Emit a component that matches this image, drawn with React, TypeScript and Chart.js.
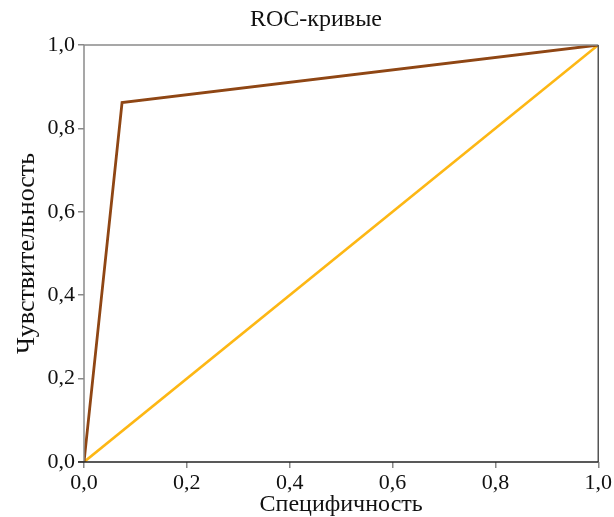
import React, { useEffect, useRef } from "react";
import { Chart, registerables } from "chart.js";

Chart.register(...registerables);

const titleText = "ROC-кривые";
const xTitle = "Специфичность";
const yTitle = "Чувствительность";

const modelX = [0, 0.074, 1];
const modelY = [0, 0.862, 1];
const refX = [0, 1];
const refY = [0, 1];

const tickValues = [0, 0.2, 0.4, 0.6, 0.8, 1.0];

const FONT = "'Liberation Serif', 'DejaVu Serif', serif";

const fmt = (v: number) => v.toFixed(1).replace(".", ",");

export default function App() {
  const ref = useRef<HTMLCanvasElement | null>(null);

  useEffect(() => {
    document.body.style.margin = "0";
    const canvas = ref.current;
    if (!canvas) return;

    const frame = {
      id: "frame",
      afterDraw(chart: any) {
        const { ctx, chartArea } = chart;
        const { left, right, top, bottom } = chartArea;
        ctx.save();
        ctx.lineWidth = 1.5;
        ctx.strokeStyle = "#8a8a8a";
        ctx.beginPath();
        ctx.moveTo(left, bottom);
        ctx.lineTo(left, top);
        ctx.lineTo(right, top);
        ctx.stroke();
        ctx.strokeStyle = "#555555";
        ctx.beginPath();
        ctx.moveTo(right, top);
        ctx.lineTo(right, bottom);
        ctx.stroke();
        ctx.strokeStyle = "#222222";
        ctx.beginPath();
        ctx.moveTo(left - 6, bottom);
        ctx.lineTo(right, bottom);
        ctx.stroke();
        ctx.fillStyle = "#111";
        ctx.font = `24px ${FONT}`;
        ctx.textAlign = "center";
        ctx.textBaseline = "middle";
        ctx.fillText(titleText, 316, 20);
        ctx.restore();
      },
    };

    const chart = new Chart(canvas, {
      type: "scatter",
      data: {
        datasets: [
          {
            label: "Модель",
            data: modelX.map((x, i) => ({ x, y: modelY[i] })),
            showLine: true,
            borderColor: "#8F4614",
            borderWidth: 2.8,
            pointRadius: 0,
            fill: false,
          },
          {
            label: "Случайный",
            data: refX.map((x, i) => ({ x, y: refY[i] })),
            showLine: true,
            borderColor: "#FDB714",
            borderWidth: 2.6,
            pointRadius: 0,
            fill: false,
          },
        ],
      },
      options: {
        animation: false,
        responsive: false,
        layout: { padding: { left: 0, right: 14, top: 45, bottom: 0 } },
        plugins: {
          legend: { display: false },
          tooltip: { enabled: false },
          title: { display: false },
        },
        scales: {
          x: {
            type: "linear",
            min: 0,
            max: 1,
            afterBuildTicks(scale: any) {
              scale.ticks = tickValues.map((v) => ({ value: v }));
            },
            afterFit(scale: any) {
              scale.height = 55;
            },
            ticks: {
              color: "#111",
              font: { family: FONT, size: 22 },
              padding: 2,
              maxRotation: 0,
              callback: (v: any) => fmt(Number(v)),
            },
            grid: {
              drawOnChartArea: false,
              drawTicks: true,
              tickLength: 6,
              color: "#888",
              lineWidth: 1.5,
            },
            border: { display: false },
            title: {
              display: true,
              text: xTitle,
              color: "#111",
              font: { family: FONT, size: 24 },
              padding: { top: 0, bottom: -2 },
            },
          },
          y: {
            type: "linear",
            min: 0,
            max: 1,
            afterBuildTicks(scale: any) {
              scale.ticks = tickValues.map((v) => ({ value: v }));
            },
            afterFit(scale: any) {
              scale.width = 84;
            },
            ticks: {
              color: "#111",
              font: { family: FONT, size: 22 },
              padding: 3,
              callback: (v: any) => fmt(Number(v)),
            },
            grid: {
              drawOnChartArea: false,
              drawTicks: true,
              tickLength: 6,
              color: "#888",
              lineWidth: 1.5,
            },
            border: { display: false },
            title: {
              display: true,
              text: yTitle,
              color: "#111",
              font: { family: FONT, size: 26 },
              padding: { top: 12, bottom: 0 },
            },
          },
        },
      },
      plugins: [frame],
    } as any);

    return () => chart.destroy();
  }, []);

  return (
    <div style={{ position: "absolute", left: 0, top: 0, width: 614, height: 517 }}>
      <canvas ref={ref} width={614} height={517} style={{ width: 614, height: 517 }} />
    </div>
  );
}
